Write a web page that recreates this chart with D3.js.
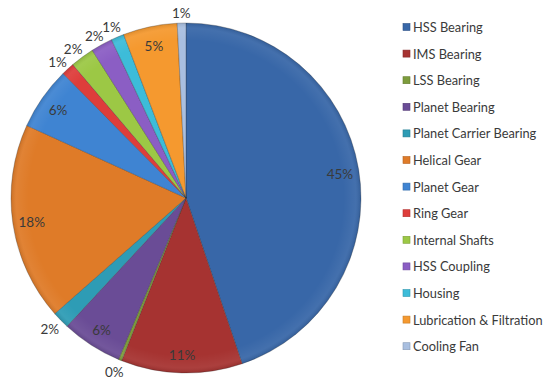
<!DOCTYPE html>
<html>
<head>
<meta charset="utf-8">
<script src="https://cdn.jsdelivr.net/npm/d3@7"></script>
<style>
  html, body { margin: 0; padding: 0; background: #fff; }
  svg { display: block; }
  text { font-family: Lato, "Open Sans", sans-serif; fill: #3a3a3a; }
</style>
</head>
<body>
<svg id="chart" width="548" height="387"></svg>
<script>
// Share of gearbox failures by component
const components = [
  "HSS Bearing", "IMS Bearing", "LSS Bearing", "Planet Bearing",
  "Planet Carrier Bearing", "Helical Gear", "Planet Gear", "Ring Gear",
  "Internal Shafts", "HSS Coupling", "Housing", "Lubrication & Filtration",
  "Cooling Fan"
];
const shares = [44.8, 11.2, 0.3, 5.6, 1.6, 18.3, 5.8, 1.2, 2.2, 2.0, 1.2, 5.0, 0.8];
const colors = [
  "#3867a8", "#a63331", "#7d9c3c", "#6a4c96", "#2e9cb5", "#df7b28",
  "#3f84d2", "#de3d3b", "#9cc845", "#8b5ec4", "#3dbcd9", "#f5992f", "#a9bfe0"
];

const svg = d3.select("#chart");
const cx = 186, cy = 198, R = 175;

const total = d3.sum(shares);
const rows = components.map((name, i) => ({ name, value: shares[i], color: colors[i] }));

const pie = d3.pie().value(d => d.value).sort(null).startAngle(0).endAngle(2 * Math.PI);
const arcs = pie(rows);
const arc = d3.arc().innerRadius(0).outerRadius(R);

const g = svg.append("g").attr("transform", `translate(${cx},${cy})`);

// subtle rim shading shared by all slices
const defs = svg.append("defs");
const shade = defs.append("radialGradient").attr("id", "rim")
  .attr("cx", "50%").attr("cy", "50%").attr("r", "50%");
shade.append("stop").attr("offset", "0%").attr("stop-color", "#fff").attr("stop-opacity", 0.0);
shade.append("stop").attr("offset", "90%").attr("stop-color", "#fff").attr("stop-opacity", 0.0);
shade.append("stop").attr("offset", "97%").attr("stop-color", "#fff").attr("stop-opacity", 0.06);
shade.append("stop").attr("offset", "100%").attr("stop-color", "#000").attr("stop-opacity", 0.10);

g.selectAll("path.slice")
  .data(arcs)
  .join("path")
  .attr("class", "slice")
  .attr("d", arc)
  .attr("fill", d => d.data.color)
  .attr("stroke", "rgba(40,40,40,0.35)")
  .attr("stroke-width", 0.8)
  .attr("stroke-linejoin", "round");

g.append("circle").attr("r", R).attr("fill", "url(#rim)").attr("pointer-events", "none");

// percentage labels: inside for larger slices, just outside the rim otherwise
const labelSize = 13.5;
arcs.forEach(d => {
  const pct = Math.round(d.data.value / total * 100);
  const mid = (d.startAngle + d.endAngle) / 2;
  const sx = Math.sin(mid), sy = -Math.cos(mid);
  const t = g.append("text")
    .attr("font-size", labelSize)
    .attr("text-anchor", "middle")
    .attr("dominant-baseline", "central")
    .text(pct + "%");
  if (pct >= 4) {
    const r = 156;
    t.attr("x", sx * r).attr("y", sy * r + 1);
  } else {
    t.attr("fill", "#555");
    const w = t.node().getComputedTextLength();
    const h = labelSize * 0.8;
    const r = R + 6;
    t.attr("x", sx * r + sx * w / 2).attr("y", sy * r + sy * h / 2 + 1);
  }
});

// legend
const legendSize = 12.8;
const legend = svg.append("g").attr("transform", "translate(403,27)");
const rowGap = 26.6;
const item = legend.selectAll("g.item")
  .data(rows)
  .join("g")
  .attr("class", "item")
  .attr("transform", (d, i) => `translate(0,${i * rowGap})`);
item.append("rect")
  .attr("x", 0).attr("y", -3.5).attr("width", 7).attr("height", 7)
  .attr("fill", d => d.color)
  .attr("stroke", d => d3.color(d.color).darker(0.6))
  .attr("stroke-width", 0.6);
item.append("text")
  .attr("x", 10).attr("y", 0)
  .attr("dominant-baseline", "central")
  .attr("font-size", legendSize)
  .text(d => d.name);
</script>
</body>
</html>
